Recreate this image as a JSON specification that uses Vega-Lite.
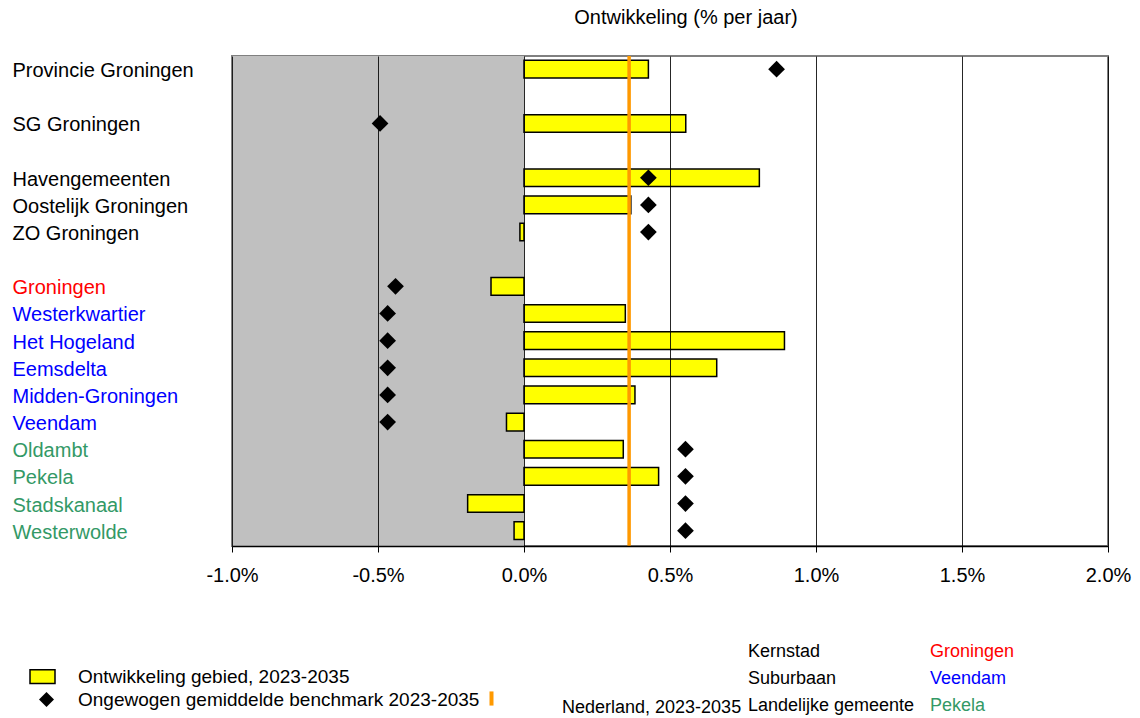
{
  "$schema": "https://vega.github.io/schema/vega-lite/v6.json",
  "width": 876,
  "height": 490,
  "autosize": {"type": "none"},
  "padding": {"left": 232, "top": 56, "right": 32, "bottom": 172},
  "background": "#ffffff",
  "title": {
    "text": "Ontwikkeling (% per jaar)",
    "font": "Liberation Sans",
    "fontSize": 20,
    "fontWeight": "normal",
    "color": "#000000",
    "anchor": "middle",
    "frame": "group",
    "dx": 16,
    "baseline": "alphabetic",
    "offset": 10
  },
  "datasets": {
    "gebieden": [
      {"gebied": "Provincie Groningen", "ontwikkeling": 0.426, "benchmark": 0.865},
      {"gebied": "SG Groningen", "ontwikkeling": 0.554, "benchmark": -0.493},
      {"gebied": "Havengemeenten", "ontwikkeling": 0.806, "benchmark": 0.426},
      {"gebied": "Oostelijk Groningen", "ontwikkeling": 0.366, "benchmark": 0.426},
      {"gebied": "ZO Groningen", "ontwikkeling": -0.014, "benchmark": 0.426},
      {"gebied": "Groningen", "ontwikkeling": -0.113, "benchmark": -0.44},
      {"gebied": "Westerkwartier", "ontwikkeling": 0.347, "benchmark": -0.467},
      {"gebied": "Het Hogeland", "ontwikkeling": 0.892, "benchmark": -0.467},
      {"gebied": "Eemsdelta", "ontwikkeling": 0.66, "benchmark": -0.467},
      {"gebied": "Midden-Groningen", "ontwikkeling": 0.38, "benchmark": -0.467},
      {"gebied": "Veendam", "ontwikkeling": -0.06, "benchmark": -0.467},
      {"gebied": "Oldambt", "ontwikkeling": 0.34, "benchmark": 0.553},
      {"gebied": "Pekela", "ontwikkeling": 0.461, "benchmark": 0.553},
      {"gebied": "Stadskanaal", "ontwikkeling": -0.193, "benchmark": 0.553},
      {"gebied": "Westerwolde", "ontwikkeling": -0.034, "benchmark": 0.553}
    ],
    "typen": [
      {"type": "Kernstad", "voorbeeld": "Groningen"},
      {"type": "Suburbaan", "voorbeeld": "Veendam"},
      {"type": "Landelijke gemeente", "voorbeeld": "Pekela"}
    ]
  },
  "data": {"name": "gebieden"},
  "encoding": {
    "y": {
      "field": "gebied",
      "type": "nominal",
      "scale": {
        "domain": ["Provincie Groningen", " ", "SG Groningen", "  ", "Havengemeenten", "Oostelijk Groningen", "ZO Groningen", "   ", "Groningen", "Westerkwartier", "Het Hogeland", "Eemsdelta", "Midden-Groningen", "Veendam", "Oldambt", "Pekela", "Stadskanaal", "Westerwolde"],
        "paddingInner": 0.35,
        "paddingOuter": 0.2,
        "align": 0.4
      },
      "axis": {
        "title": null,
        "ticks": false,
        "domain": false,
        "grid": false,
        "labelAlign": "left",
        "labelBaseline": "middle",
        "labelPadding": 220,
        "labelOffset": 2,
        "labelFont": "Liberation Sans",
        "labelFontSize": 20,
        "labelLimit": 400,
        "labelColor": {
          "condition": [
            {"test": "datum.value === 'Groningen'", "value": "#ff0000"},
            {"test": "indexof(['Westerkwartier','Het Hogeland','Eemsdelta','Midden-Groningen','Veendam'], datum.value) >= 0", "value": "#0000ff"},
            {"test": "indexof(['Oldambt','Pekela','Stadskanaal','Westerwolde'], datum.value) >= 0", "value": "#339966"}
          ],
          "value": "#000000"
        }
      }
    }
  },
  "layer": [
    {
      "data": {"values": [{}]},
      "mark": {"type": "rect", "color": "#c0c0c0"},
      "encoding": {
        "y": null,
        "x": {"datum": -1, "type": "quantitative"},
        "x2": {"datum": 0}
      }
    },
    {
      "mark": {"type": "bar", "stroke": "#000000", "strokeWidth": 1.5},
      "encoding": {
        "x": {
          "field": "ontwikkeling",
          "type": "quantitative",
          "scale": {"domain": [-1, 2], "nice": false, "zero": false},
          "axis": {
            "title": null,
            "values": [-1, -0.5, 0, 0.5, 1, 1.5, 2],
            "labelExpr": "(datum.value < 0 ? '-' : '') + format(abs(datum.value), '.1f') + '%'",
            "labelFont": "Liberation Sans",
            "labelFontSize": 20,
            "labelColor": "#000000",
            "labelFlush": false,
            "labelOverlap": false,
            "labelPadding": 13,
            "grid": true,
            "gridColor": "#000000",
            "gridWidth": 1,
            "gridOpacity": 0.85,
            "domain": true,
            "domainColor": "#000000",
            "domainWidth": 1.5,
            "ticks": true,
            "tickColor": "#000000",
            "tickSize": 6,
            "tickWidth": 1,
            "zindex": 1
          }
        },
        "x2": {"datum": 0},
        "fill": {
          "datum": "Ontwikkeling gebied, 2023-2035",
          "type": "nominal",
          "scale": {"range": ["#ffff00"]},
          "legend": {
            "title": null,
            "orient": "none",
            "legendX": -203,
            "legendY": 607,
            "padding": 0,
            "symbolType": "M-1,-0.55L1,-0.55L1,0.55L-1,0.55Z",
            "symbolSize": 625,
            "symbolStrokeColor": "#000000",
            "symbolStrokeWidth": 1.5,
            "labelOffset": 22,
            "labelFontSize": 19,
            "labelFont": "Liberation Sans",
            "labelLimit": 0
          }
        }
      }
    },
    {
      "data": {"values": [{}]},
      "mark": {"type": "rule", "strokeWidth": 3.5},
      "encoding": {
        "y": null,
        "x": {"datum": 0.36, "type": "quantitative"},
        "stroke": {
          "datum": "Nederland, 2023-2035",
          "type": "nominal",
          "scale": {"range": ["#ff9900"]},
          "legend": {
            "title": null,
            "orient": "none",
            "legendX": 250,
            "legendY": 633,
            "padding": 0,
            "symbolType": "M0,-1L0,1",
            "symbolSize": 200,
            "symbolStrokeWidth": 4,
            "labelOffset": 61,
            "labelBaseline": "top",
            "labelFontSize": 18,
            "labelFont": "Liberation Sans",
            "labelLimit": 0
          }
        }
      }
    },
    {
      "mark": {"type": "point", "filled": true, "color": "#000000", "size": 280, "opacity": 1},
      "encoding": {
        "x": {"field": "benchmark", "type": "quantitative"},
        "shape": {
          "datum": "Ongewogen gemiddelde benchmark 2023-2035",
          "type": "nominal",
          "scale": {"range": ["diamond"]},
          "legend": {
            "title": null,
            "orient": "none",
            "legendX": -195,
            "legendY": 634,
            "padding": 0,
            "symbolSize": 225,
            "symbolFillColor": "#000000",
            "symbolStrokeWidth": 0,
            "labelOffset": 22,
            "labelFontSize": 19,
            "labelFont": "Liberation Sans",
            "labelLimit": 0
          }
        }
      }
    },
    {
      "data": {"name": "typen"},
      "mark": {"type": "point", "opacity": 0},
      "encoding": {
        "y": null,
        "color": {
          "field": "type",
          "type": "nominal",
          "scale": {"domain": ["Kernstad", "Suburbaan", "Landelijke gemeente"], "range": ["#000000", "#000000", "#000000"]},
          "legend": {
            "title": null,
            "orient": "none",
            "legendX": 498,
            "legendY": 587,
            "padding": 0,
            "symbolSize": 0,
            "symbolOpacity": 0,
            "symbolStrokeWidth": 0,
            "labelOffset": 0,
            "rowPadding": 9,
            "labelFontSize": 18,
            "labelFont": "Liberation Sans",
            "labelLimit": 0
          }
        },
        "strokeDash": {
          "field": "voorbeeld",
          "type": "nominal",
          "scale": {"domain": ["Groningen", "Veendam", "Pekela"]},
          "legend": {
            "title": null,
            "orient": "none",
            "legendX": 680,
            "legendY": 587,
            "padding": 0,
            "symbolSize": 0,
            "symbolOpacity": 0,
            "symbolStrokeWidth": 0,
            "labelOffset": 0,
            "rowPadding": 9,
            "labelFontSize": 18,
            "labelFont": "Liberation Sans",
            "labelLimit": 0,
            "labelColor": {"expr": "datum.value === 'Groningen' ? '#ff0000' : datum.value === 'Veendam' ? '#0000ff' : '#339966'"}
          }
        }
      }
    }
  ],
  "config": {
    "font": "Liberation Sans",
    "view": {"stroke": "#808080", "strokeWidth": 2},
    "legend": {"labelColor": "#000000"}
  }
}
